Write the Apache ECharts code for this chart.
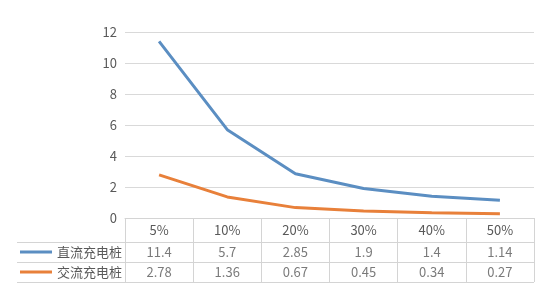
<!DOCTYPE html>
<html><head><meta charset="utf-8">
<script src="https://cdn.jsdelivr.net/npm/echarts@6/dist/echarts.min.js"></script>
<style>html,body{margin:0;padding:0;background:#fff}#c{width:542px;height:307px}</style>
</head><body><div id="c"></div>
<script>
const categories = ['5%', '10%', '20%', '30%', '40%', '50%'];
const seriesNames = ['直流充电桩', '交流充电桩'];
const dcValues = [11.4, 5.7, 2.85, 1.9, 1.4, 1.14];
const acValues = [2.78, 1.36, 0.67, 0.45, 0.34, 0.27];
const yTicks = { min: 0, max: 12, interval: 2 };

const colors = ['#5b8ec2', '#e8803a'];
const textColor = '#595959';
const lineColor = '#d4d4d4';
const font = '"Noto Sans CJK SC", "Noto Sans", sans-serif';
const allValues = [dcValues, acValues];

const chart = echarts.init(document.getElementById('c'));
const tableData = [];
allValues.forEach((vals, r) => vals.forEach((v, i) => tableData.push([categories[i], seriesNames[r], v])));

chart.setOption({
  backgroundColor: '#fff',
  textStyle: { fontFamily: font },
  animation: false,
  grid: [
    { left: 125, right: 8, top: 32, height: 186 },
    { left: 125, right: 8, top: 242, height: 40 }
  ],
  xAxis: [
    { type: 'category', gridIndex: 0, data: categories, boundaryGap: true,
      axisLine: { show: true, lineStyle: { color: lineColor } },
      axisTick: { show: true, length: 64, interval: 0, lineStyle: { color: lineColor } },
      axisLabel: { color: textColor, fontSize: 13, margin: 6, fontFamily: font, interval: 0 } },
    { type: 'category', gridIndex: 1, data: categories, show: false }
  ],
  yAxis: [
    { type: 'value', gridIndex: 0, min: yTicks.min, max: yTicks.max, interval: yTicks.interval,
      axisLine: { show: false }, axisTick: { show: false },
      axisLabel: { color: textColor, fontSize: 13, margin: 8, fontFamily: font },
      splitLine: { lineStyle: { color: '#d9d9d9' } } },
    { type: 'category', gridIndex: 1, data: seriesNames, inverse: true,
      axisLine: { show: false },
      axisTick: { show: true, length: 108, lineStyle: { color: lineColor } },
      splitLine: { show: true, lineStyle: { color: lineColor } },
      axisLabel: { margin: 3, fontFamily: font,
        formatter: (v, i) => '{a' + i + '| }{t|' + v + '}',
        rich: {
          a0: { width: 32, height: 3, backgroundColor: colors[0] },
          a1: { width: 32, height: 3, backgroundColor: colors[1] },
          t: { fontSize: 13, color: textColor, padding: [0, 0, 0, 5], fontFamily: font }
        } } },
    { type: 'category', gridIndex: 1, data: seriesNames, offset: 108,
      axisLine: { show: true, lineStyle: { color: lineColor } },
      axisTick: { show: false }, axisLabel: { show: false }, splitLine: { show: false } }
  ],
  series: [
    { name: seriesNames[0], type: 'line', xAxisIndex: 0, yAxisIndex: 0, data: dcValues,
      showSymbol: false, lineStyle: { width: 3, color: colors[0] }, itemStyle: { color: colors[0] } },
    { name: seriesNames[1], type: 'line', xAxisIndex: 0, yAxisIndex: 0, data: acValues,
      showSymbol: false, lineStyle: { width: 3, color: colors[1] }, itemStyle: { color: colors[1] } },
    { type: 'scatter', xAxisIndex: 1, yAxisIndex: 1, data: tableData, symbolSize: 0, silent: true,
      label: { show: true, position: 'inside', color: textColor, fontSize: 13, fontFamily: font,
        formatter: p => String(p.value[2]) } }
  ]
});
</script></body></html>
